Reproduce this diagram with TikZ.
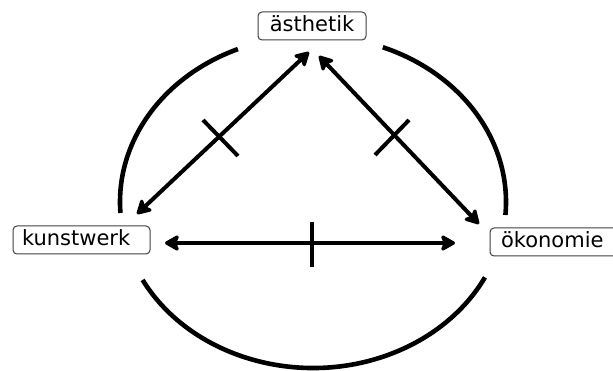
\documentclass[tikz,border=0pt]{standalone}
\usepackage{fontspec}
\setmainfont{DejaVu Sans}
\usetikzlibrary{arrows.meta}
\begin{document}
\begin{tikzpicture}[x=1pt,y=-1pt,
  label box/.style={draw=black!75, line width=1pt, rounded corners=4pt, fill=white,
    font=\fontsize{21}{25}\selectfont, minimum height=28pt, inner ysep=0pt,
    text height=15.5pt, text depth=4.5pt, align=left},
  ring/.style={line width=4.6pt, black},
  link/.style={line width=4pt, black, {Stealth[length=17pt,width=19pt,inset=4pt,round]}-{Stealth[length=17pt,width=19pt,inset=4pt,round]}},
  tick/.style={line width=4pt, black}]
\clip (0,0) rectangle (613,371);
\fill[white] (0,0) rectangle (613,371);
% labels
\node[label box, minimum width=108pt, inner xsep=6pt] (ae) at (312,26) {ästhetik};
\node[label box, text width=119pt, inner xsep=9pt] (ku) at (81.5,240) {kunstwerk};
\node[label box, text width=112pt, inner xsep=11pt] (oe) at (557,242) {ökonomie};
% surrounding ring (four arcs)
\coordinate (c) at (313,202);
\draw[ring] (c) ++(247.1:193 and 166) arc[start angle=247.1, end angle=176.2, x radius=193, y radius=166];
\draw[ring] (c) ++(291.2:193 and 166) arc[start angle=291.2, end angle=364.5, x radius=193, y radius=166];
\draw[ring] (c) ++(152:193 and 166) arc[start angle=152, end angle=27, x radius=193, y radius=166];
% arrow end points
\coordinate (kuA) at (137,214);
\coordinate (aeL) at (309,52);
\coordinate (aeR) at (319,56);
\coordinate (oeA) at (479,224);
\coordinate (kuH) at (165,243);
\coordinate (oeH) at (455,243);
\draw[link] (kuA) -- (aeL);
\draw[link] (aeR) -- (oeA);
\draw[link] (kuH) -- (oeH);
% cross bars
\coordinate (t1a) at (203,120); \coordinate (t1b) at (238,156);
\coordinate (t2a) at (375,155); \coordinate (t2b) at (409,120);
\coordinate (t3a) at (312,222); \coordinate (t3b) at (312,267);
\draw[tick] (t1a) -- (t1b);
\draw[tick] (t2a) -- (t2b);
\draw[tick] (t3a) -- (t3b);
\end{tikzpicture}
\end{document}
